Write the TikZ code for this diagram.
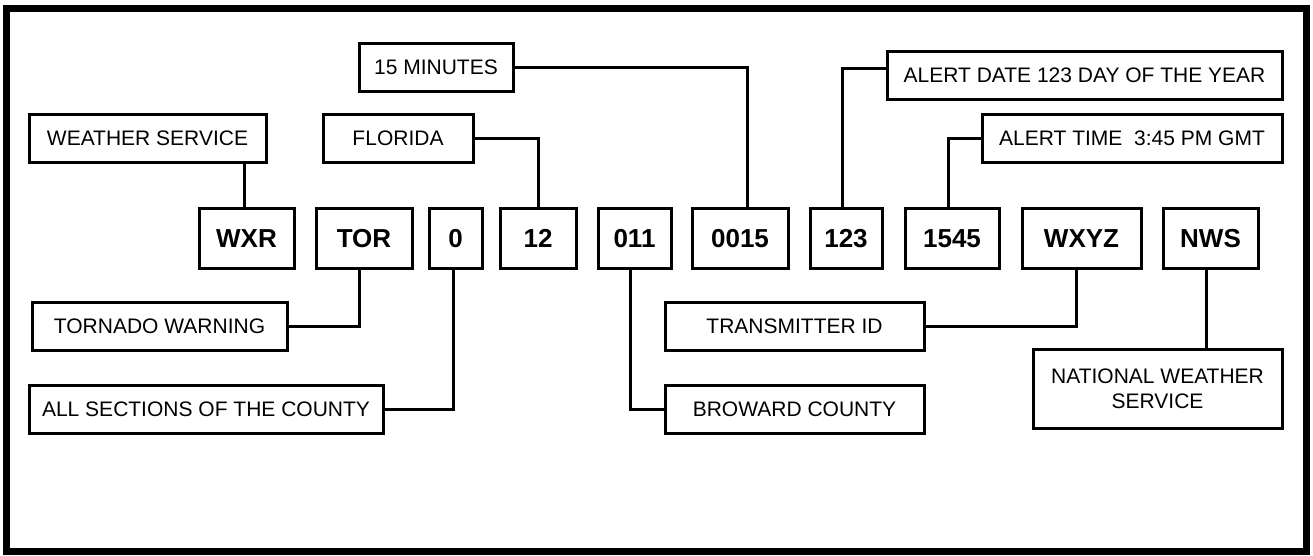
\documentclass[tikz,border=0pt]{standalone}
\usepackage{fontspec}
\setmainfont{Liberation Sans}
\usepackage{tikz}

\begin{document}
\begin{tikzpicture}[x=1pt, y=-1pt,
    txtbox/.style={draw, line width=3pt, inner sep=0pt, minimum height=48pt,
                   font=\fontsize{21}{25}\selectfont},
    codebox/.style={draw, line width=3pt, inner sep=0pt, minimum height=60pt,
                    text height=19pt, text depth=0pt,
                    font=\fontsize{26}{30}\selectfont\bfseries},
    wire/.style={line width=3pt}]
    \useasboundingbox (0,0) rectangle (1313,555);
    \draw[line width=7pt] (6.5,8.5) rectangle (1306.5,551.5);

    % upper labels
    \node[txtbox, minimum width=154pt] (fifteen)   at ( 436, 67) {15 MINUTES};
    \node[txtbox, minimum width=237pt] (wsvc)      at (147.5,138) {WEATHER SERVICE};
    \node[txtbox, minimum width=150pt] (flor)      at ( 398,138) {FLORIDA};
    \node[txtbox, minimum width=395pt] (alertdate) at (1084.5,75) {ALERT DATE 123 DAY OF THE YEAR};
    \node[txtbox, minimum width=300pt] (alerttime) at (1132,138) {ALERT TIME~ 3:45 PM GMT};

    % the code itself
    \node[codebox, minimum width= 95pt] (wxr)    at (246.5,238) {WXR};
    \node[codebox, minimum width= 96pt] (tor)    at ( 364,238) {TOR};
    \node[codebox, minimum width= 53pt] (zero)   at (455.5,238) {0};
    \node[codebox, minimum width= 76pt] (twelve) at ( 538,238) {12};
    \node[codebox, minimum width= 73pt] (cnty)   at (634.5,238) {011};
    \node[codebox, minimum width= 96pt] (mins)   at ( 740,238) {0015};
    \node[codebox, minimum width= 72pt] (day)    at ( 846,238) {123};
    \node[codebox, minimum width= 94pt] (hhmm)   at ( 952,238) {1545};
    \node[codebox, minimum width=119pt] (wxyz)   at (1081.5,238) {WXYZ};
    \node[codebox, minimum width= 95pt] (nws)    at (1210.5,238) {NWS};

    % lower labels
    \node[txtbox, minimum width=255pt] (tornado) at (159.5,326) {TORNADO WARNING};
    \node[txtbox, minimum width=354pt] (allsect) at ( 206,409) {ALL SECTIONS OF THE COUNTY};
    \node[txtbox, minimum width=259pt] (txid)    at (794.5,326) {TRANSMITTER ID};
    \node[txtbox, minimum width=259pt] (broward) at (794.5,409) {BROWARD COUNTY};
    \node[txtbox, minimum width=249pt, minimum height=79pt, align=center,
          font=\fontsize{21}{25}\selectfont] (natl) at (1157.5,388.5) {NATIONAL WEATHER\\SERVICE};

    % connectors
    \draw[wire] ([xshift=-2pt]wxr.north) -- ([xshift=-2pt]wxr.north |- wsvc.south);
    \draw[wire] (flor.east) -| (twelve.north);
    \draw[wire] (fifteen.east) -| ([xshift=7pt]mins.north);
    \draw[wire] ([yshift=7pt]alertdate.west) -| ([xshift=-4pt]day.north);
    \draw[wire] (alerttime.west) -| ([xshift=-4pt]hhmm.north);
    \draw[wire] ([xshift=-5pt]tor.south) |- (tornado.east);
    \draw[wire] ([xshift=-2pt]zero.south) |- (allsect.east);
    \draw[wire] ([xshift=-4pt]cnty.south) |- (broward.west);
    \draw[wire] ([xshift=-5pt]wxyz.south) |- (txid.east);
    \draw[wire] ([xshift=-4pt]nws.south) -- ([xshift=-4pt]nws.south |- natl.north);
\end{tikzpicture}
\end{document}
